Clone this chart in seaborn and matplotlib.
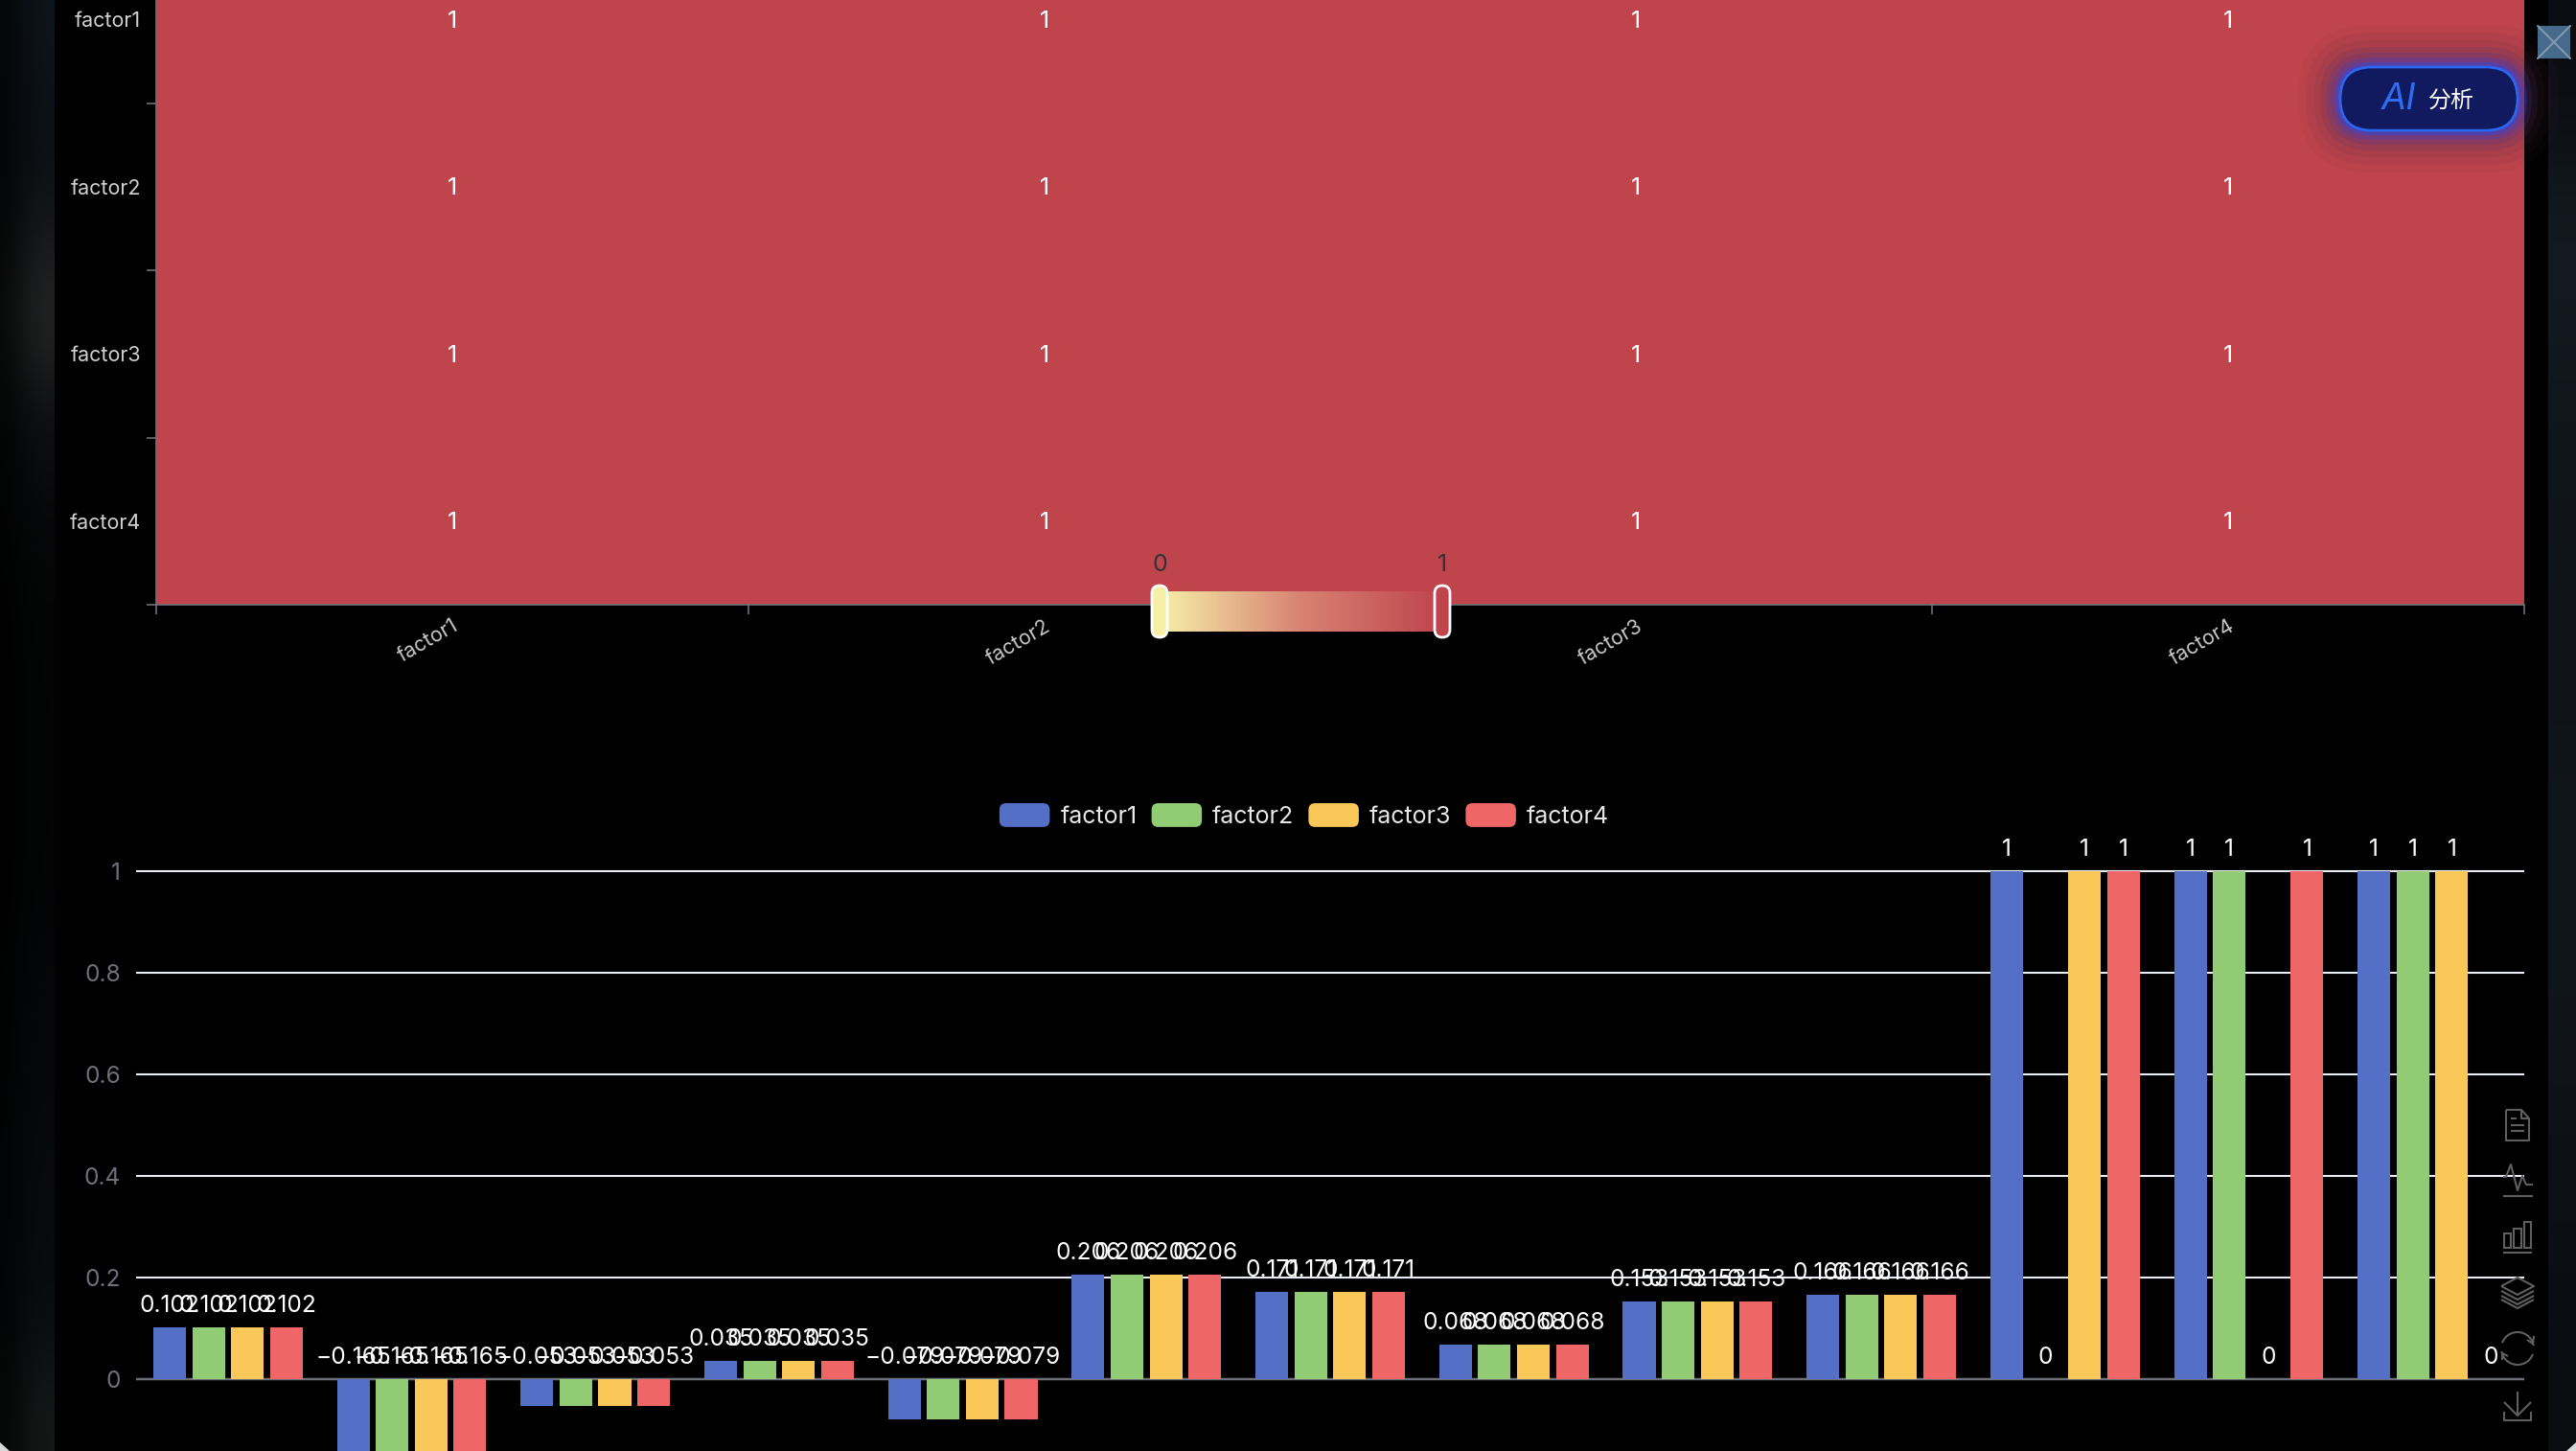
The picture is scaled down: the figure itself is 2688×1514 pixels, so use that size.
import numpy as np
import pandas as pd
import seaborn as sns
import matplotlib
matplotlib.use('Agg')
import matplotlib.pyplot as plt
from matplotlib.colors import LinearSegmentedColormap, to_rgb
from matplotlib.legend_handler import HandlerPatch
from matplotlib.patches import FancyBboxPatch, Rectangle, Polygon, Arc
from matplotlib.transforms import ScaledTranslation

W, H = 2688, 1514

# data
factors = ['factor1', 'factor2', 'factor3', 'factor4']
corr_values = [[1, 1, 1, 1], [1, 1, 1, 1], [1, 1, 1, 1], [1, 1, 1, 1]]
groups = list(range(13))
factor1_vals = [0.102, -0.165, -0.053, 0.035, -0.079, 0.206, 0.171, 0.068, 0.153, 0.166, 1, 1, 1]
factor2_vals = [0.102, -0.165, -0.053, 0.035, -0.079, 0.206, 0.171, 0.068, 0.153, 0.166, 0, 1, 1]
factor3_vals = [0.102, -0.165, -0.053, 0.035, -0.079, 0.206, 0.171, 0.068, 0.153, 0.166, 1, 0, 1]
factor4_vals = [0.102, -0.165, -0.053, 0.035, -0.079, 0.206, 0.171, 0.068, 0.153, 0.166, 1, 1, 0]
y_ticks = [0, 0.2, 0.4, 0.6, 0.8, 1]
y_tick_labels = ['0', '0.2', '0.4', '0.6', '0.8', '1']

bar_colors = ['#5470c6', '#91cc75', '#fac858', '#ee6666']
heat_colors = ['#f6efa6', '#d88273', '#bf444c']
axis_grey = '#6e7079'
icon_grey = '#5f5f5f'

# blurred page behind the modal, top to bottom
left_strip = ['#0e141b', '#0b1015', '#141516', '#262828', '#0e1011', '#07090a', '#040505', '#030404', '#030404',
              '#030404', '#040607', '#050708', '#07090b', '#080b0e', '#090c0e', '#141817']
right_strip = ['#0b0d12', '#0d1016', '#151a22', '#141820', '#11151c', '#10141b', '#10141a', '#0f1319', '#10141b',
               '#11151c', '#11151c', '#10141a', '#0e1117', '#0c0f14', '#0b0d12', '#0a0c10']

sns.set_theme(style='dark', rc={'figure.facecolor': 'black', 'axes.facecolor': 'black', 'savefig.facecolor': 'black'})
plt.rcParams['font.family'] = ['Inter', 'Noto Sans CJK SC', 'DejaVu Sans']


def px_axes(x0, y0, x1, y1):
    return fig.add_axes([x0 / W, 1 - y1 / H, (x1 - x0) / W, (y1 - y0) / H])


def px2pt(p):
    return p * 72 / 100


fig = plt.figure(figsize=(W / 100, H / 100), dpi=100)

# background strips
for x0, x1, strip, fade in [(0, 57, left_strip, [0.3, 0.8, 1.0]), (2659, W, right_strip, [1.0, 1.0, 1.0])]:
    bg = px_axes(x0, 0, x1, H)
    rgb = np.array([[to_rgb(c)] for c in strip]) * np.array(fade)[None, :, None]
    bg.imshow(rgb, aspect='auto', interpolation='bicubic')
    bg.axis('off')

# heatmap, the top of it runs off the page
heat_cmap = LinearSegmentedColormap.from_list('heat', heat_colors)
ax1 = px_axes(163, -67, 2634, 631)
corr_df = pd.DataFrame(corr_values, index=factors, columns=factors)
sns.heatmap(corr_df, ax=ax1, vmin=0, vmax=1, cmap=heat_cmap, cbar=False, annot=True, fmt='d',
            annot_kws={'color': 'white', 'fontsize': px2pt(25)})
for t in ax1.texts:
    t.set_y(t.get_position()[1] + 0.012)
ax1.set_xlabel('')
ax1.set_ylabel('')
ax1.tick_params(axis='both', which='major', length=0)
ax1.tick_params(axis='y', which='major', pad=px2pt(16), labelcolor='#d0d0d0', labelsize=px2pt(21.5), labelrotation=0)
ax1.tick_params(axis='x', which='major', pad=px2pt(12), labelcolor='#c8c8c8', labelsize=px2pt(21.5))
for lab in ax1.get_xticklabels():
    lab.set_rotation(30)
    lab.set_ha('right')
    lab.set_rotation_mode('anchor')
for lab in ax1.get_yticklabels():
    lab.set_transform(lab.get_transform() + ScaledTranslation(0, -2 / 100, fig.dpi_scale_trans))
ax1.set_xticks(range(5), minor=True)
ax1.set_yticks(range(5), minor=True)
ax1.tick_params(axis='both', which='minor', length=px2pt(10), width=1.2, color=axis_grey, bottom=True, left=True)
for side in ['left', 'bottom']:
    ax1.spines[side].set_visible(True)
    ax1.spines[side].set_color(axis_grey)
    ax1.spines[side].set_linewidth(1.2)

# grouped bars, the bottom runs off the page
ax2 = px_axes(142, 856, 2634, 1651)
df = pd.DataFrame({'group': groups * 4,
                   'factor': [f for f in factors for _ in groups],
                   'value': factor1_vals + factor2_vals + factor3_vals + factor4_vals})
sns.barplot(data=df, x='group', y='value', hue='factor', palette=bar_colors, ax=ax2, width=0.847, gap=0.16,
            saturation=1, errorbar=None, zorder=3, linewidth=0)
ax2.set_ylim(-0.4, 1.1)
ax2.set_xlim(-0.5, 12.5)
ax2.set_xlabel('')
ax2.set_ylabel('')
ax2.set_xticks([])
ax2.set_yticks(y_ticks, y_tick_labels)
ax2.tick_params(axis='y', length=0, pad=px2pt(16), labelcolor=axis_grey, labelsize=px2pt(24.5))
ax2.yaxis.grid(True, color='#e8ecf4', linewidth=1.5, zorder=0)
ax2.set_axisbelow(True)
ax2.axhline(0, color=axis_grey, linewidth=1.7, zorder=2)
sns.despine(ax=ax2, left=True, bottom=True)
for c in ax2.containers:
    for bar, v in zip(c.patches, c.datavalues):
        ax2.annotate(f'{v:g}'.replace('-', '\u2212'), xy=(bar.get_x() + bar.get_width() / 2, max(v, 0)),
                     xytext=(0, px2pt(22.5)), textcoords='offset points', ha='center', va='center',
                     color='white', fontsize=px2pt(24.5), zorder=5, annotation_clip=False)


def rounded_handle(legend, orig_handle, xdescent, ydescent, width, height, fontsize):
    return FancyBboxPatch((-xdescent + 4, -ydescent + 4), width - 8, height - 8,
                          boxstyle='round,pad=4,rounding_size=5', linewidth=0)


handles, labels = ax2.get_legend_handles_labels()
ax2.legend(handles, labels, ncols=4, frameon=False, loc='center', bbox_to_anchor=(1361 / W, 1 - 851 / H),
           bbox_transform=fig.transFigure, fontsize=px2pt(25), labelcolor='#e6e6e6',
           handlelength=2.1, handleheight=1.15, handletextpad=0.44, columnspacing=0.6, borderpad=0, borderaxespad=0,
           handler_map={h: HandlerPatch(patch_func=rounded_handle) for h in handles})

# colour range control
ax3 = px_axes(1210, 617, 1505, 659)
ax3.imshow(np.linspace(0, 1, 256)[None, :], cmap=heat_cmap, aspect='auto')
ax3.axis('off')

# page furniture drawn in pixel coordinates
ov = fig.add_axes([0, 0, 1, 1])
ov.set_xlim(0, W)
ov.set_ylim(H, 0)
ov.axis('off')
ov.patch.set_alpha(0)

for x, col, lab in [(1210, heat_colors[0], '0'), (1505, heat_colors[2], '1')]:
    ov.add_patch(FancyBboxPatch((x - 6, 613), 12, 50, boxstyle='round,pad=2,rounding_size=8', facecolor=col,
                                edgecolor='white', linewidth=2))
    ov.text(x, 589, lab, color='#333333', fontsize=px2pt(25), ha='center', va='center')

# AI button with its glow
for grow, alpha, col in [(44, 0.06, '#5a3040'), (36, 0.08, '#5a3040'), (28, 0.10, '#553050'), (21, 0.14, '#503070'),
                         (15, 0.20, '#4a35a0'), (10, 0.30, '#3f3cc0'), (5, 0.45, '#2f48e0')]:
    ov.add_patch(FancyBboxPatch((2475, 103), 119, 0.1, boxstyle='round,pad=%d,rounding_size=%d' % (33 + grow, 33 + grow),
                                facecolor=col, edgecolor='none', alpha=alpha))
ov.add_patch(FancyBboxPatch((2475, 103), 119, 0.1, boxstyle='round,pad=33,rounding_size=33', facecolor='#111a5e',
                            edgecolor='#2a66f0', linewidth=2))
ov.text(2503, 104, 'AI', color='#2f6df0', fontsize=px2pt(38), fontstyle='italic', ha='center', va='center')
ov.text(2558, 105, '分析', color='white', fontsize=px2pt(24), ha='center', va='center')

# broken image box at the top right
ov.add_patch(Rectangle((2648, 27), 34, 34, facecolor='#466a8c', edgecolor='none'))
ov.plot([2648, 2682], [27, 61], color='#7f98ac', lw=1.5)
ov.plot([2648, 2682], [61, 27], color='#7f98ac', lw=1.5)

# toolbox icons
ik = dict(color=icon_grey, lw=1.5, solid_capstyle='butt')
ov.plot([2615, 2631, 2639, 2639, 2615, 2615], [1158, 1158, 1167, 1190, 1190, 1158], **ik)
ov.plot([2631, 2631, 2639], [1158, 1167, 1167], **ik)
for yy, x1 in [(1167, 2626), (1174, 2634), (1180, 2634)]:
    ov.plot([2620, x1], [yy, yy], **ik)
ov.plot([2612, 2615, 2620, 2627, 2632, 2636, 2643], [1228, 1228, 1215, 1242, 1227, 1236, 1236], **ik)
ov.plot([2612, 2643], [1248, 1248], **ik)
for x0, x1, y0 in [(2613, 2620, 1287), (2623, 2631, 1282), (2634, 2641, 1275)]:
    ov.add_patch(Rectangle((x0, y0), x1 - x0, 1302 - y0, fill=False, edgecolor=icon_grey, lw=1.5))
ov.plot([2612, 2642], [1307, 1307], **ik)
ov.plot([2610, 2627, 2644, 2627, 2610], [1342, 1333, 1342, 1351, 1342], **ik)
for yy in [1347, 1352, 1356]:
    ov.plot([2610, 2627, 2644], [yy, yy + 9, yy], **ik)
ov.add_patch(Arc((2627, 1407), 34, 34, theta1=200, theta2=350, edgecolor=icon_grey, lw=1.5))
ov.add_patch(Arc((2627, 1407), 34, 34, theta1=20, theta2=170, edgecolor=icon_grey, lw=1.5))
ov.plot([2637, 2643, 2644], [1398, 1402, 1394], **ik)
ov.plot([2611, 2611, 2617], [1419, 1412, 1415], **ik)
ov.plot([2627, 2627], [1452, 1477], **ik)
ov.plot([2613, 2627, 2641], [1463, 1477, 1463], **ik)
ov.plot([2613, 2613, 2641, 2641], [1473, 1482, 1482, 1473], **ik)

# rounded corners of the window
ov.add_patch(Polygon([(0, 1505), (10, 1514), (0, 1514)], facecolor='#d8d8d8', edgecolor='none'))
ov.add_patch(Polygon([(W, 1505), (W - 10, 1514), (W, 1514)], facecolor='#d8d8d8', edgecolor='none'))

fig.savefig('out.png', dpi=100)
